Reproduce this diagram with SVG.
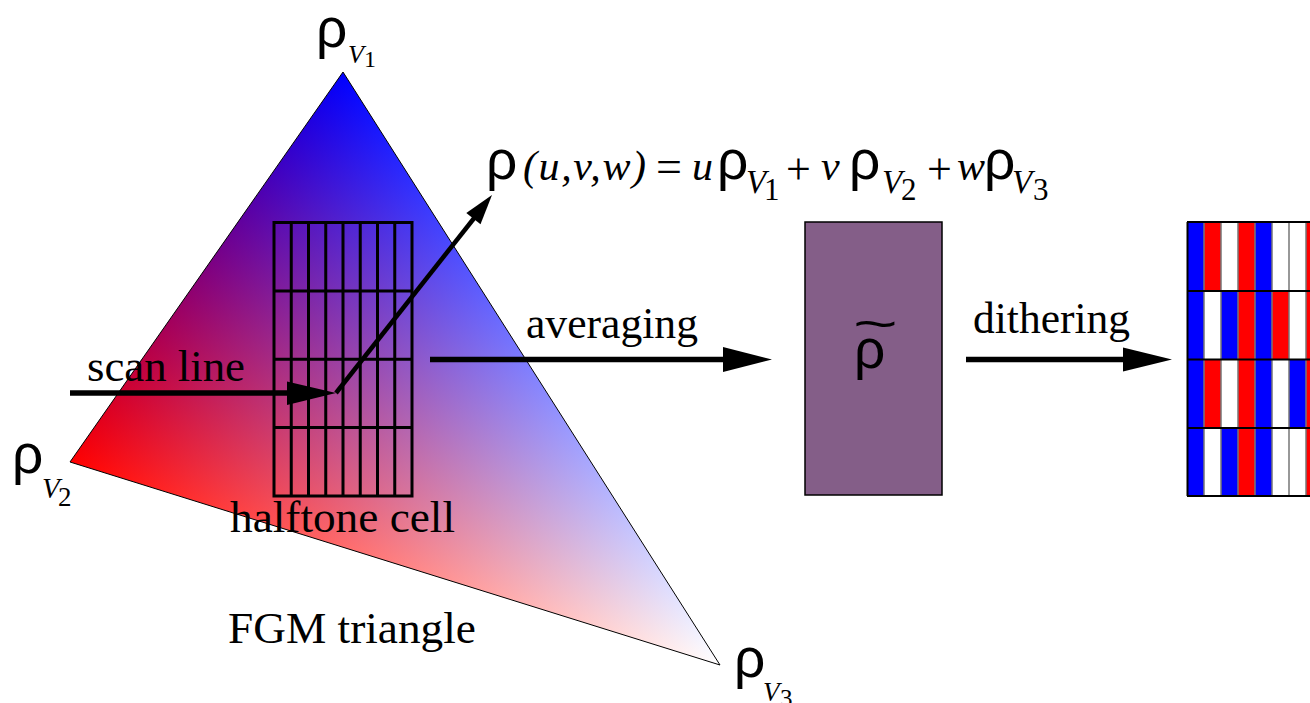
<svg xmlns="http://www.w3.org/2000/svg" width="1310" height="703" viewBox="0 0 1310 703">
<style>
.rho{font-family:"Liberation Sans",Arial,sans-serif;font-size:55px;fill:#000}
.it{font-family:"Liberation Serif","Times New Roman",serif;font-style:italic;fill:#000}
.rm{font-family:"Liberation Serif","Times New Roman",serif;fill:#000}
.lbl{font-family:"Liberation Serif","Times New Roman",serif;font-size:44px;fill:#000}
.grid{stroke:#000;stroke-width:3;fill:none}
.conn{stroke:#000;stroke-width:5.5;fill:none}
.head{fill:#000}
.sep{stroke:#777;stroke-width:1.5}
.row{stroke:#000;stroke-width:2}
</style>
<defs>
<linearGradient id="g1" gradientUnits="userSpaceOnUse" x1="343" y1="72" x2="207.76" y2="505.02">
<stop offset="0" stop-color="#00ffff"/><stop offset="1" stop-color="#ffffff"/></linearGradient>
<linearGradient id="g2" gradientUnits="userSpaceOnUse" x1="70" y1="462" x2="440.99" y2="226.14">
<stop offset="0" stop-color="#ffff00"/><stop offset="1" stop-color="#ffffff"/></linearGradient>
<linearGradient id="g3" gradientUnits="userSpaceOnUse" x1="720" y1="665" x2="188.39" y2="292.87">
<stop offset="0" stop-color="#ffffff"/><stop offset="1" stop-color="#ff00ff"/></linearGradient>
</defs>

<g id="fgm-triangle">
<g style="isolation:isolate">
<polygon points="343,72 70,462 720,665" fill="url(#g1)"/>
<polygon points="343,72 70,462 720,665" fill="url(#g2)" style="mix-blend-mode:multiply"/>
<polygon points="343,72 70,462 720,665" fill="url(#g3)" style="mix-blend-mode:multiply"/>
</g>
<polygon points="343,72 70,462 720,665" fill="none" stroke="#000" stroke-width="1"/>
<text class="lbl" x="228" y="643" textLength="248" lengthAdjust="spacingAndGlyphs">FGM triangle</text>
</g>

<g id="vertex-v1">
<text class="rho" x="316" y="47">ρ</text>
<text class="it" x="348" y="63" font-size="26">V</text>
<text class="rm" x="364" y="67" font-size="24">1</text>
</g>
<g id="vertex-v2">
<text class="rho" x="12" y="473">ρ</text>
<text class="it" x="42" y="498" font-size="29">V</text>
<text class="rm" x="58" y="506" font-size="27">2</text>
</g>
<g id="vertex-v3">
<text class="rho" x="734" y="677">ρ</text>
<text class="it" x="763" y="701" font-size="27">V</text>
<text class="rm" x="780" y="707" font-size="25">3</text>
</g>

<g id="halftone-cell">
<rect class="grid" x="274" y="222.5" width="138" height="273.5"/>
<path class="grid" d="M291.25,222.5V496M308.5,222.5V496M325.75,222.5V496M343,222.5V496M360.25,222.5V496M377.5,222.5V496M394.75,222.5V496M274,290.9H412M274,359.3H412M274,427.6H412"/>
<text class="lbl" x="230" y="532" textLength="225" lengthAdjust="spacingAndGlyphs">halftone cell</text>
</g>

<g id="scan-line-label">
<text class="lbl" x="87" y="381" textLength="158" lengthAdjust="spacingAndGlyphs">scan line</text>
</g>

<g id="formula">
<text class="rho" x="486" y="179">ρ</text>
<text class="it" x="523" y="180" font-size="42" textLength="123" lengthAdjust="spacing">(u,v,w)</text>
<text class="rm" x="656" y="182" font-size="46">=</text>
<text class="it" x="692" y="180" font-size="42">u</text>
<text class="rho" x="717" y="179">ρ</text>
<text class="it" x="746" y="193" font-size="33">V</text>
<text class="rm" x="764" y="200" font-size="31">1</text>
<text class="rm" x="786" y="184" font-size="44">+</text>
<text class="it" x="821" y="180" font-size="42">v</text>
<text class="rho" x="849" y="179">ρ</text>
<text class="it" x="882" y="193" font-size="33">V</text>
<text class="rm" x="901" y="200" font-size="31">2</text>
<text class="rm" x="927" y="184" font-size="44">+</text>
<text class="it" x="957" y="180" font-size="42">w</text>
<text class="rho" x="984" y="179">ρ</text>
<text class="it" x="1012" y="193" font-size="33">V</text>
<text class="rm" x="1033" y="200" font-size="31">3</text>
</g>

<g id="average-box">
<rect x="805" y="222" width="137" height="273" fill="#845e88" stroke="#000" stroke-width="1.5"/>
<text class="rho" x="854" y="368">ρ</text>
<text transform="translate(853,340) scale(1.6,1)" x="0" y="0" font-family="Liberation Sans,Arial,sans-serif" font-size="48">~</text>
</g>

<g id="dither-grid">
<rect x="1187" y="222" width="17" height="69" fill="#0000ff"/>
<rect x="1204" y="222" width="17" height="69" fill="#ff0000"/>
<rect x="1221" y="222" width="17" height="69" fill="#ffffff"/>
<rect x="1238" y="222" width="17" height="69" fill="#ff0000"/>
<rect x="1255" y="222" width="17" height="69" fill="#0000ff"/>
<rect x="1272" y="222" width="17" height="69" fill="#ffffff"/>
<rect x="1289" y="222" width="17" height="69" fill="#ffffff"/>
<rect x="1306" y="222" width="17" height="69" fill="#ff0000"/>

<rect x="1187" y="291" width="17" height="68.5" fill="#0000ff"/>
<rect x="1204" y="291" width="17" height="68.5" fill="#ffffff"/>
<rect x="1221" y="291" width="17" height="68.5" fill="#0000ff"/>
<rect x="1238" y="291" width="17" height="68.5" fill="#ff0000"/>
<rect x="1255" y="291" width="17" height="68.5" fill="#0000ff"/>
<rect x="1272" y="291" width="17" height="68.5" fill="#ff0000"/>
<rect x="1289" y="291" width="17" height="68.5" fill="#ffffff"/>
<rect x="1306" y="291" width="17" height="68.5" fill="#ff0000"/>

<rect x="1187" y="359.5" width="17" height="68.5" fill="#0000ff"/>
<rect x="1204" y="359.5" width="17" height="68.5" fill="#ff0000"/>
<rect x="1221" y="359.5" width="17" height="68.5" fill="#ffffff"/>
<rect x="1238" y="359.5" width="17" height="68.5" fill="#ff0000"/>
<rect x="1255" y="359.5" width="17" height="68.5" fill="#0000ff"/>
<rect x="1272" y="359.5" width="17" height="68.5" fill="#ffffff"/>
<rect x="1289" y="359.5" width="17" height="68.5" fill="#0000ff"/>
<rect x="1306" y="359.5" width="17" height="68.5" fill="#ff0000"/>

<rect x="1187" y="428" width="17" height="68" fill="#0000ff"/>
<rect x="1204" y="428" width="17" height="68" fill="#ffffff"/>
<rect x="1221" y="428" width="17" height="68" fill="#0000ff"/>
<rect x="1238" y="428" width="17" height="68" fill="#ff0000"/>
<rect x="1255" y="428" width="17" height="68" fill="#0000ff"/>
<rect x="1272" y="428" width="17" height="68" fill="#ffffff"/>
<rect x="1289" y="428" width="17" height="68" fill="#ffffff"/>
<rect x="1306" y="428" width="17" height="68" fill="#ff0000"/>

<path class="sep" d="M1204,222V496M1221,222V496M1238,222V496M1255,222V496M1272,222V496M1289,222V496M1306,222V496"/>
<path class="row" d="M1187,222H1310M1187,291H1310M1187,359.5H1310M1187,428H1310M1187,496H1310M1187.5,222V496"/>
</g>

<g id="connectors">
<line class="conn" x1="70" y1="393" x2="292" y2="393"/>
<polygon class="head" points="287,381.5 336,393 287,405"/>
<line class="conn" x1="336" y1="393" x2="475" y2="217" style="stroke-width:4.5"/>
<polygon class="head" points="492,195 480.5,224.2 466.3,213"/>
<line class="conn" x1="430" y1="359.5" x2="726" y2="359.5"/>
<polygon class="head" points="723,347 772,359.5 723,372"/>
<text class="lbl" x="526" y="338" textLength="172" lengthAdjust="spacingAndGlyphs">averaging</text>
<line class="conn" x1="966" y1="359.5" x2="1126" y2="359.5"/>
<polygon class="head" points="1123,347.5 1172,359.5 1123,371.5"/>
<text class="lbl" x="973" y="333" textLength="157" lengthAdjust="spacingAndGlyphs">dithering</text>
</g>
</svg>
